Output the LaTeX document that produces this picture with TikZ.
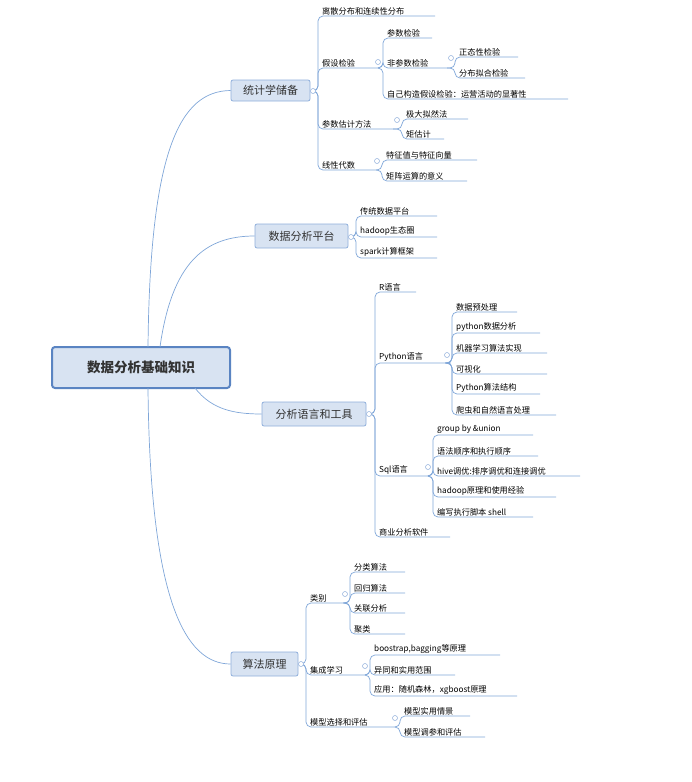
\documentclass[tikz,border=0pt]{standalone}
\usepackage{fontspec}
\setmainfont{Noto Sans CJK SC}
\begin{document}
\begin{tikzpicture}[x=1pt,y=-1pt,
  ln/.style={draw=lnc,line width=0.7pt},
  br/.style={ln,rounded corners=5pt},
  lf/.style={inner sep=1pt,font=\fontsize{8.2}{9.5}\selectfont},
  mb/.style={draw=bxd,fill=bxf,rounded corners=2pt,line width=0.8pt,font=\fontsize{11}{12}\selectfont,text=txc,inner sep=0pt},
  kn/.style={circle,draw=knd,fill=white,inner sep=0pt,minimum size=5pt,line width=0.5pt}]
\definecolor{lnc}{HTML}{7FA6D8}
\definecolor{bxf}{HTML}{D8E3F2}
\definecolor{bxd}{HTML}{8FAEDB}
\definecolor{rtd}{HTML}{5A84C2}
\definecolor{txc}{HTML}{333333}
\definecolor{knd}{HTML}{8FAEDB}
\useasboundingbox (0,0) rectangle (691,782);
\newcommand\lf[7]{%
 \node[lf,anchor=south west] (#1) at (#2+3,#3) {#5};
 \draw[br] (#6,#7) -- (#2,#7) -- (#2,#3) -- (#4,#3);}
\newcommand\kn[3]{\node[kn] (#1) at (#2,#3) {};}
% root
\node[draw=rtd,fill=bxf,rounded corners=3pt,line width=2pt,minimum width=178pt,minimum height=41pt,font=\bfseries\fontsize{13.5}{15}\selectfont,text=txc] (root) at (141,367.5) {数据分析基础知识};
% main boxes
\node[mb,minimum width=79pt,minimum height=21pt] (tj) at (270.5,90.5) {统计学储备};
\node[mb,minimum width=93pt,minimum height=24pt] (pt) at (301.5,236) {数据分析平台};
\node[mb,minimum width=104pt,minimum height=24pt] (yy) at (314,414) {分析语言和工具};
\node[mb,minimum width=67pt,minimum height=24pt] (sf) at (264.5,664) {算法原理};
\draw[ln] (148,347) .. controls (150,150) and (180,91) .. (tj.west);
\draw[ln] (160,347) .. controls (172,262) and (205,236) .. (pt.west);
\draw[ln] (195,388) .. controls (212,410) and (235,414) .. (yy.west);
\draw[ln] (148,388) .. controls (150,600) and (185,664) .. (sf.west);
% 统计学储备
\lf{a1}{318}{16}{435}{离散分布和连续性分布}{313}{91}
\lf{a2}{318}{68}{378}{假设检验}{313}{91}
\lf{a3}{318}{129}{393}{参数估计方法}{313}{91}
\lf{a4}{318}{170}{376}{线性代数}{313}{91}
\lf{b1}{383}{38}{432}{参数检验}{378}{68}
\lf{b2}{383}{68}{447}{非参数检验}{378}{68}
\lf{b3}{383}{99}{568}{自己构造假设检验：运营活动的显著性}{378}{68}
\lf{c1}{455}{57}{518}{正态性检验}{447}{68}
\lf{c2}{455}{78}{525}{分布拟合检验}{447}{68}
\lf{d1}{402}{119}{468}{极大拟然法}{393}{129}
\lf{d2}{402}{139}{444}{矩估计}{393}{129}
\lf{e1}{382}{160}{477}{特征值与特征向量}{376}{170}
\lf{e2}{382}{181}{467}{矩阵运算的意义}{376}{170}
% 平台
\lf{p1}{356}{216}{437}{传统数据平台}{351}{237}
\lf{p2}{356}{237}{437}{hadoop生态圈}{351}{237}
\lf{p3}{356}{258}{437}{spark计算框架}{351}{237}
% 语言
\lf{r1}{375}{292}{416}{R语言}{369}{414}
\lf{r2}{375}{363}{450}{Python语言}{369}{414}
\lf{r3}{375}{476}{428}{Sql语言}{369}{414}
\lf{r4}{375}{537}{450}{商业分析软件}{369}{414}
\lf{q1}{452}{312}{517}{数据预处理}{450}{363}
\lf{q2}{452}{333}{540}{python数据分析}{450}{363}
\lf{q3}{452}{353}{547}{机器学习算法实现}{450}{363}
\lf{q4}{452}{374}{547}{可视化}{450}{363}
\lf{q5}{452}{394}{540}{Python算法结构}{450}{363}
\lf{q6}{452}{415}{556}{爬虫和自然语言处理}{450}{363}
\lf{s1}{433}{435}{533}{group by \&union}{428}{476}
\lf{s2}{433}{456}{538}{语法顺序和执行顺序}{428}{476}
\lf{s3}{433}{476}{580}{hive调优:排序调优和连接调优}{428}{476}
\lf{s4}{433}{497}{556}{hadoop原理和使用经验}{428}{476}
\lf{s5}{433}{517}{533}{编写执行脚本 shell}{428}{476}
% 算法
\lf{g1}{306}{603}{347}{类别}{301}{664}
\lf{g2}{306}{675}{365}{集成学习}{301}{664}
\lf{g3}{306}{727}{395}{模型选择和评估}{301}{664}
\lf{h1}{350}{572}{405}{分类算法}{347}{603}
\lf{h2}{350}{593}{405}{回归算法}{347}{603}
\lf{h3}{350}{613}{405}{关联分析}{347}{603}
\lf{h4}{350}{634}{405}{聚类}{347}{603}
\lf{i1}{370}{655}{500}{boostrap,bagging等原理}{365}{675}
\lf{i2}{370}{675}{455}{异同和实用范围}{365}{675}
\lf{i3}{370}{696}{517}{应用：随机森林，xgboost原理}{365}{675}
\lf{j1}{400}{716}{470}{模型实用情景}{395}{727}
\lf{j2}{400}{737}{485}{模型调参和评估}{395}{727}
% knobs
\kn{k1}{313}{91}\kn{k2}{378}{62}\kn{k3}{451}{58}\kn{k4}{397}{120}\kn{k5}{377}{161}
\kn{k6}{351}{237}\kn{k7}{369}{414}\kn{k8}{447}{355}\kn{k9}{428}{467}
\kn{k10}{301}{664}\kn{k11}{345}{594}\kn{k12}{365}{666}\kn{k13}{395}{718}
\end{tikzpicture}
\end{document}
